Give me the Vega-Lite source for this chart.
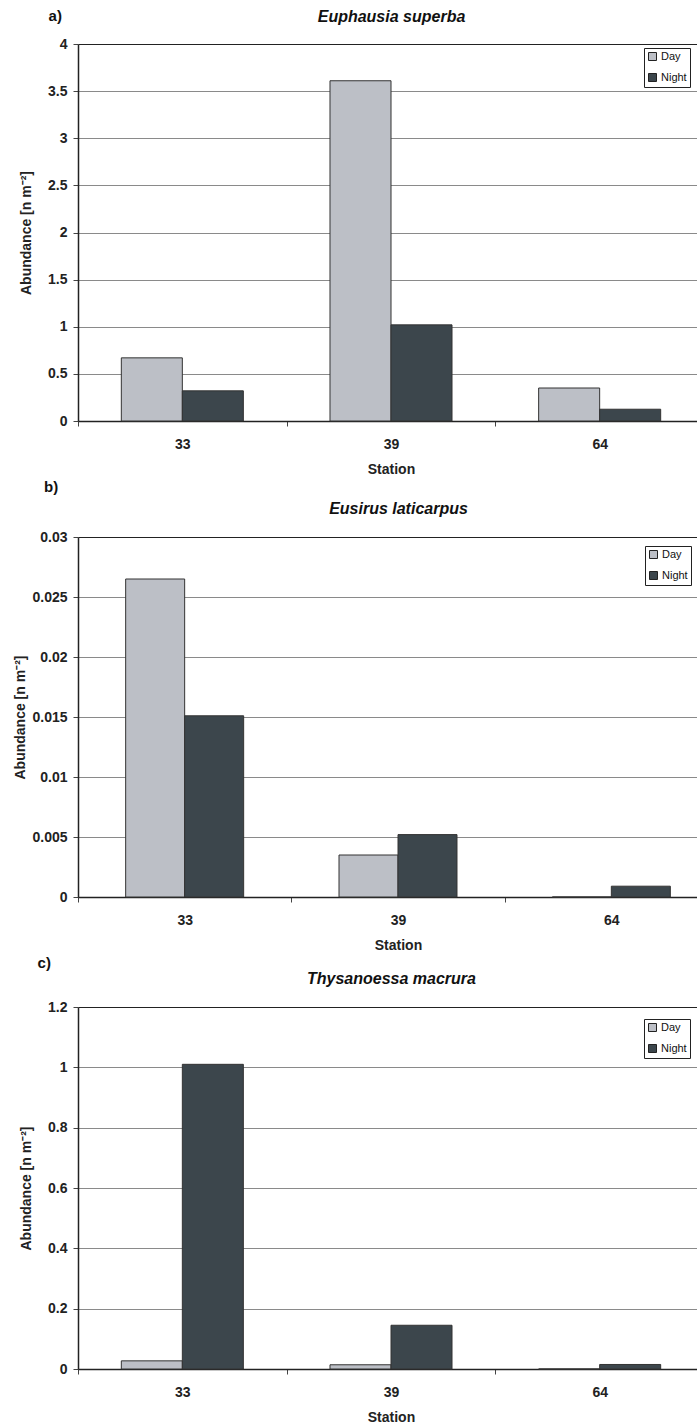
{
  "$schema": "https://vega.github.io/schema/vega-lite/v6.json",
  "background": "white",
  "padding": {"left": 13, "top": 8, "right": 0, "bottom": 0},
  "autosize": {"type": "pad"},
  "datasets": {
    "a": [
      {"station": "33", "period": "Day", "abundance": 0.67},
      {"station": "33", "period": "Night", "abundance": 0.32},
      {"station": "39", "period": "Day", "abundance": 3.61},
      {"station": "39", "period": "Night", "abundance": 1.02},
      {"station": "64", "period": "Day", "abundance": 0.35},
      {"station": "64", "period": "Night", "abundance": 0.125}
    ],
    "b": [
      {"station": "33", "period": "Day", "abundance": 0.0265},
      {"station": "33", "period": "Night", "abundance": 0.0151},
      {"station": "39", "period": "Day", "abundance": 0.0035},
      {"station": "39", "period": "Night", "abundance": 0.0052},
      {"station": "64", "period": "Day", "abundance": 0},
      {"station": "64", "period": "Night", "abundance": 0.0009}
    ],
    "c": [
      {"station": "33", "period": "Day", "abundance": 0.027},
      {"station": "33", "period": "Night", "abundance": 1.01},
      {"station": "39", "period": "Day", "abundance": 0.014},
      {"station": "39", "period": "Night", "abundance": 0.145},
      {"station": "64", "period": "Day", "abundance": 0},
      {"station": "64", "period": "Night", "abundance": 0.015}
    ]
  },
  "columns": 1,
  "align": "none",
  "spacing": 4,
  "resolve": {
    "scale": {"x": "independent", "y": "independent", "color": "independent", "xOffset": "independent"},
    "legend": {"color": "independent"}
  },
  "concat": [
    {
      "title": {"text": "a)", "anchor": "start", "frame": "bounds", "offset": -16, "dx": 29},
      "width": 626,
      "height": 377,
      "data": {"name": "a"},
      "resolve": {"axis": {"x": "independent"}},
      "layer": [
        {
          "mark": {"type": "bar", "stroke": "#333", "strokeWidth": 1},
          "encoding": {
            "x": {"field": "station", "type": "nominal", "title": "Station", "scale": {"paddingInner": 0, "paddingOuter": 0}},
            "xOffset": {"field": "period", "type": "nominal", "scale": {"domain": ["Day", "Night"], "paddingInner": 0, "paddingOuter": 0.71}},
            "y": {"field": "abundance", "type": "quantitative", "title": "Abundance [n m⁻²]", "scale": {"domain": [0, 4], "nice": false}, "axis": {"titlePadding": 14, "values": [0, 0.5, 1, 1.5, 2, 2.5, 3, 3.5, 4], "format": "~g", "gridColor": {"condition": {"test": "datum.value >= 4", "value": "#222"}, "value": "#8a8a8a"}}},
            "color": {"field": "period", "type": "nominal", "scale": {"domain": ["Day", "Night"], "range": ["#bcbfc6", "#3c464c"]}, "legend": {"legendX": 566, "legendY": 4}}
          }
        },
        {
          "mark": {"type": "point", "opacity": 0},
          "encoding": {
            "x": {"field": "station", "type": "nominal", "axis": {"orient": "top", "title": "Euphausia superba", "labels": false, "ticks": false, "domain": false, "titlePadding": 20}}
          }
        }
      ]
    },
    {
      "title": {"text": "b)", "anchor": "start", "frame": "bounds", "offset": 5, "dx": 30},
      "width": 640,
      "height": 360,
      "data": {"name": "b"},
      "resolve": {"axis": {"x": "independent"}},
      "layer": [
        {
          "mark": {"type": "bar", "stroke": "#333", "strokeWidth": 1},
          "encoding": {
            "x": {"field": "station", "type": "nominal", "title": "Station", "scale": {"paddingInner": 0, "paddingOuter": 0}},
            "xOffset": {"field": "period", "type": "nominal", "scale": {"domain": ["Day", "Night"], "paddingInner": 0, "paddingOuter": 0.808}},
            "y": {"field": "abundance", "type": "quantitative", "title": "Abundance [n m⁻²]", "scale": {"domain": [0, 0.03], "nice": false}, "axis": {"titlePadding": 4, "values": [0, 0.005, 0.01, 0.015, 0.02, 0.025, 0.03], "format": "~g", "gridColor": {"condition": {"test": "datum.value >= 0.03", "value": "#222"}, "value": "#8a8a8a"}}},
            "color": {"field": "period", "type": "nominal", "scale": {"domain": ["Day", "Night"], "range": ["#bcbfc6", "#3c464c"]}, "legend": {"legendX": 567, "legendY": 9}}
          }
        },
        {
          "mark": {"type": "point", "opacity": 0},
          "encoding": {
            "x": {"field": "station", "type": "nominal", "axis": {"orient": "top", "title": "Eusirus laticarpus", "labels": false, "ticks": false, "domain": false, "titlePadding": 21}}
          }
        }
      ]
    },
    {
      "title": {"text": "c)", "anchor": "start", "frame": "bounds", "offset": -1, "dx": 18},
      "width": 626,
      "height": 362,
      "data": {"name": "c"},
      "resolve": {"axis": {"x": "independent"}},
      "layer": [
        {
          "mark": {"type": "bar", "stroke": "#333", "strokeWidth": 1},
          "encoding": {
            "x": {"field": "station", "type": "nominal", "title": "Station", "scale": {"paddingInner": 0, "paddingOuter": 0}},
            "xOffset": {"field": "period", "type": "nominal", "scale": {"domain": ["Day", "Night"], "paddingInner": 0, "paddingOuter": 0.71}},
            "y": {"field": "abundance", "type": "quantitative", "title": "Abundance [n m⁻²]", "scale": {"domain": [0, 1.2], "nice": false}, "axis": {"titlePadding": 14, "values": [0, 0.2, 0.4, 0.6, 0.8, 1, 1.2], "format": "~g", "gridColor": {"condition": {"test": "datum.value >= 1.2", "value": "#222"}, "value": "#8a8a8a"}}},
            "color": {"field": "period", "type": "nominal", "scale": {"domain": ["Day", "Night"], "range": ["#bcbfc6", "#3c464c"]}, "legend": {"legendX": 566, "legendY": 12}}
          }
        },
        {
          "mark": {"type": "point", "opacity": 0},
          "encoding": {
            "x": {"field": "station", "type": "nominal", "axis": {"orient": "top", "title": "Thysanoessa macrura", "labels": false, "ticks": false, "domain": false, "titlePadding": 21}}
          }
        }
      ]
    }
  ],
  "config": {
    "font": "Liberation Sans",
    "view": {"stroke": null},
    "title": {"font": "Liberation Sans", "fontSize": 15, "fontWeight": "bold", "color": "#111"},
    "axis": {
      "labelFont": "Liberation Sans", "labelFontWeight": "bold", "labelFontSize": 14, "labelColor": "#222",
      "titleFont": "Liberation Sans", "titleFontWeight": "bold", "titleFontSize": 14, "titleColor": "#222",
      "domainColor": "#222", "domainWidth": 1.5, "tickColor": "#444", "tickSize": 5
    },
    "axisTop": {"titleFontSize": 16, "titleFontStyle": "italic", "titleColor": "#111"},
    "axisX": {"labelAngle": 0, "tickBand": "extent", "labelPadding": 11, "titlePadding": 11, "grid": false},
    "axisY": {"grid": true, "labelPadding": 6},
    "legend": {
      "orient": "none", "title": null, "symbolType": "square", "symbolSize": 64,
      "symbolStrokeColor": "#222", "symbolStrokeWidth": 1, "labelFont": "Liberation Sans",
      "labelFontSize": 11, "labelColor": "#111", "strokeColor": "#222", "fillColor": "white",
      "padding": 3, "rowPadding": 8, "labelOffset": 3
    }
  }
}
